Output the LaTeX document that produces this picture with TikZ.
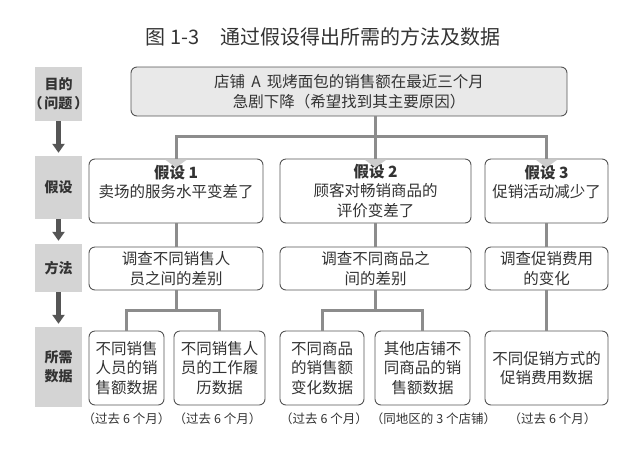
\documentclass[tikz,border=0pt]{standalone}
\usepackage{fontspec}
\setmainfont{Noto Sans CJK SC}
\usetikzlibrary{arrows.meta,calc,positioning}
\definecolor{inkgray}{HTML}{333333}
\definecolor{boxline}{HTML}{555555}
\definecolor{labgray}{HTML}{D4D4D4}
\definecolor{topgray}{HTML}{E9E9E9}
\definecolor{linkgray}{HTML}{8C8C8C}
\definecolor{arrowgray}{HTML}{555555}
\definecolor{tipgray}{HTML}{CDCDCD}

\begin{document}
\begin{tikzpicture}[x=1pt,y=-1pt,
		lab/.style={fill=labgray,minimum width=47pt,inner sep=0pt,align=center,text=inkgray,font=\fontsize{14}{19}\selectfont\bfseries},
		box/.style={draw=boxline,line width=0.9pt,rounded corners=6pt,fill=white,inner sep=0pt,align=center,text=inkgray,font=\fontsize{15.5}{19.5}\selectfont},
		link/.style={draw=linkgray,line width=3pt},
		down/.style={-{Triangle[width=12pt,length=9pt]},draw=arrowgray,line width=5pt,shorten >=3pt},
		note/.style={text=inkgray,font=\fontsize{12.5}{15}\selectfont}]
	\useasboundingbox (0,0) rectangle (640,451);

	\node[text=inkgray,font=\fontsize{20}{24}\selectfont] (title) at (323,37) {图 1-3\hspace{21pt}通过假设得出所需的方法及数据};

	% left column
	\node[lab,minimum height=54pt] (goal) at (58.5,94) {目的\\\makebox[40pt]{（\hspace{2pt}问题\hspace{2pt}）}};
	\node[lab,minimum height=63pt] (hyp) at (58.5,187.5) {假设};
	\node[lab,minimum height=48pt] (meth) at (58.5,268) {方法};
	\node[lab,minimum height=80pt] (need) at (58.5,367) {所需\\数据};
	\foreach \a/\b in {goal/hyp,hyp/meth,meth/need}
		\draw[down] (\a) -- (\b);

	% problem
	\node[box,fill=topgray,minimum width=436pt,minimum height=49pt] (prob) at (349,91.5)
		{店铺\hspace{.4em}A\hspace{.4em}现烤面包的销售额在最近三个月\\急剧下降（希望找到其主要原因）};

	% hypotheses
	\node[box,minimum width=174pt,minimum height=64pt] (h1) at (176,191) {{\bfseries 假设 1}\\卖场的服务水平变差了\\\mbox{}};
	\node[box,minimum width=191pt,minimum height=64pt] (h2) at (375.5,191) {{\bfseries 假设 2}\\顾客对畅销商品的\\评价变差了};
	\node[box,minimum width=123pt,minimum height=64pt] (h3) at (546.5,191) {{\bfseries 假设 3}\\促销活动减少了\\\mbox{}};

	% methods
	\node[box,minimum width=174pt,minimum height=43pt] (m1) at (176,268.5) {调查不同销售人\\员之间的差别};
	\node[box,minimum width=191pt,minimum height=43pt] (m2) at (375.5,268.5) {调查不同商品之\\间的差别};
	\node[box,minimum width=123pt,minimum height=43pt] (m3) at (546.5,268.5) {调查促销费用\\的变化};

	% data
	\node[box,minimum width=75pt,minimum height=74pt] (d1) at (126.5,368) {不同销售\\人员的销\\售额数据};
	\node[box,minimum width=91pt,minimum height=74pt] (d2) at (219.5,368) {不同销售人\\员的工作履\\历数据};
	\node[box,minimum width=84pt,minimum height=74pt] (d3) at (322,368) {不同商品\\的销售额\\变化数据};
	\node[box,minimum width=95pt,minimum height=74pt] (d4) at (422.5,368) {其他店铺不\\同商品的销\\售额数据};
	\node[box,minimum width=123pt,minimum height=74pt] (d5) at (546.5,368) {不同促销方式的\\促销费用数据};

	\node[note] (c1) at ($(d1.south)+(0,13)$) {（过去 6 个月）};
	\node[note] (c2) at ($(d2.south)+(-2,13)$) {（过去 6 个月）};
	\node[note] (c3) at ($(d3.south)+(2,13)$) {（过去 6 个月）};
	\node[note] (c4) at ($(d4.south)+(11,13)$) {（同地区的 3 个店铺）};
	\node[note] (c5) at ($(d5.south)+(6,13)$) {（过去 6 个月）};

	% connectors
	\coordinate (split) at ($(prob.south -| h2.north)+(0,20)$);
	\draw[link] (prob.south -| h2.north) -- (h2.north);
	\draw[link] (h1.north) |- (split) -| (h3.north);
	\foreach \n in {h1,h2,h3}
		\fill[tipgray] ($(\n.north)+(-11,1)$) -- ($(\n.north)+(11,1)$) -- ($(\n.north)+(0,9)$) -- cycle;
	\foreach \i in {1,2,3}
		\draw[link] (h\i) -- (m\i);
	\draw[link] (m1.south) -- ++(0,20) coordinate (s1);
	\draw[link] (d1.north) |- (s1) -| (d2.north);
	\draw[link] (m2.south) -- ++(0,20) coordinate (s2);
	\draw[link] (d3.north) |- (s2) -| (d4.north);
	\draw[link] (m3) -- (d5);
\end{tikzpicture}
\end{document}
